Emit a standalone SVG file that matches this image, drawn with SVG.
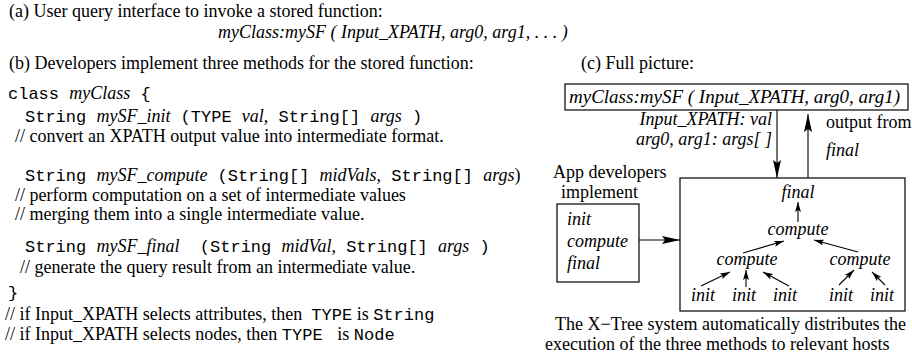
<svg xmlns="http://www.w3.org/2000/svg" width="912" height="358" viewBox="0 0 912 358">
<style>
text{font-family:"Liberation Serif","Times New Roman",serif;font-size:18px;fill:#000;white-space:pre}
.m{font-family:"Liberation Mono","Courier New",monospace;font-size:17px}
.i{font-style:italic}
.lbl{font-size:19px}
.box{fill:none;stroke:#000;stroke-width:1.2}
.ln{fill:none;stroke:#000;stroke-width:1.1}
</style>
<defs>
<marker id="ah" viewBox="0 0 18 8" refX="18" refY="4" markerWidth="18" markerHeight="8" markerUnits="userSpaceOnUse" orient="auto"><path d="M0,0 L18,4 L0,8 L3,4 z" fill="#000"/></marker>
<marker id="ahs" viewBox="0 0 10 6" refX="10" refY="3" markerWidth="10" markerHeight="6" markerUnits="userSpaceOnUse" orient="auto"><path d="M0,0 L10,3 L0,6 L2,3 z" fill="#000"/></marker>
</defs>

<g id="part-a">
<text x="9" y="17">(a) User query interface to invoke a stored function:</text>
<text class="i" x="218" y="38">myClass:mySF ( Input_XPATH, arg0, arg1, . . . )</text>
</g>

<g id="part-b">
<text x="9" y="69">(b) Developers implement three methods for the stored function:</text>
<text x="8" y="99"><tspan class="m">class </tspan><tspan class="i">myClass</tspan><tspan class="m"> {</tspan></text>
<text x="25" y="122"><tspan class="m">String </tspan><tspan class="i">mySF_init</tspan><tspan class="m"> (TYPE </tspan><tspan class="i">val,</tspan><tspan class="m"> String[] </tspan><tspan class="i">args</tspan><tspan class="m"> )</tspan></text>
<text x="15" y="142">// convert an XPATH output value into intermediate format.</text>
<text x="25" y="181"><tspan class="m">String </tspan><tspan class="i">mySF_compute</tspan><tspan class="m"> (String[] </tspan><tspan class="i">midVals,</tspan><tspan class="m"> String[] </tspan><tspan class="i">args</tspan>)</text>
<text x="15" y="201">// perform computation on a set of intermediate values</text>
<text x="15" y="220">// merging them into a single intermediate value.</text>
<text x="25" y="252"><tspan class="m">String </tspan><tspan class="i">mySF_final</tspan><tspan class="m">  (String </tspan><tspan class="i">midVal,</tspan><tspan class="m"> String[] </tspan><tspan class="i">args</tspan><tspan class="m"> )</tspan></text>
<text x="20" y="273">// generate the query result from an intermediate value.</text>
<text x="8" y="298"><tspan class="m">}</tspan></text>
<text x="5" y="320">// if Input_XPATH selects attributes, then  <tspan class="m">TYPE</tspan> is <tspan class="m">String</tspan></text>
<text x="5" y="340">// if Input_XPATH selects nodes, then <tspan class="m">TYPE </tspan> is <tspan class="m">Node</tspan></text>
</g>

<g id="part-c">
<text x="581" y="69">(c) Full picture:</text>
</g>

<g id="node-call">
<rect class="box" x="565" y="84" width="343" height="26"/>
<text class="i lbl" x="569" y="103">myClass:mySF ( Input_XPATH, arg0, arg1)</text>
</g>

<g id="label-in">
<text class="i" x="772" y="125" text-anchor="end">Input_XPATH: val</text>
<text class="i" x="772" y="145" text-anchor="end">arg0, arg1: args[ ]</text>
</g>

<g id="label-out">
<text x="826" y="128">output from</text>
<text class="i" x="826" y="156">final</text>
</g>

<g id="label-dev">
<text x="553" y="178">App developers</text>
<text x="561" y="198">implement</text>
</g>

<g id="node-methods">
<rect class="box" x="557" y="204" width="82" height="78"/>
<text class="i" x="567" y="225">init</text>
<text class="i" x="567" y="247">compute</text>
<text class="i" x="567" y="269">final</text>
</g>

<g id="node-xtree">
<rect class="box" x="680" y="178" width="225" height="133"/>
<g id="t-final"><text class="i" x="798" y="198" text-anchor="middle">final</text></g>
<g id="t-compute-top"><text class="i" x="798" y="235" text-anchor="middle">compute</text></g>
<g id="t-compute-l"><text class="i" x="747" y="265" text-anchor="middle">compute</text></g>
<g id="t-compute-r"><text class="i" x="860" y="265" text-anchor="middle">compute</text></g>
<g id="t-init1"><text class="i" x="703" y="301" text-anchor="middle">init</text></g>
<g id="t-init2"><text class="i" x="744" y="301" text-anchor="middle">init</text></g>
<g id="t-init3"><text class="i" x="785" y="301" text-anchor="middle">init</text></g>
<g id="t-init4"><text class="i" x="841" y="301" text-anchor="middle">init</text></g>
<g id="t-init5"><text class="i" x="882" y="301" text-anchor="middle">init</text></g>
</g>

<g id="caption">
<text x="555" y="330">The X−Tree system automatically distributes the</text>
<text x="545" y="350">execution of the three methods to relevant hosts</text>
</g>

<g id="connectors">
<line class="ln" x1="777" y1="110" x2="777" y2="178" marker-end="url(#ah)"/>
<line class="ln" x1="808" y1="178" x2="808" y2="114" marker-end="url(#ah)"/>
<line class="ln" x1="639" y1="240" x2="680" y2="240" marker-end="url(#ah)"/>
<line class="ln" x1="798" y1="222" x2="798" y2="202" marker-end="url(#ahs)"/>
<line class="ln" x1="743" y1="253" x2="784" y2="241" marker-end="url(#ahs)"/>
<line class="ln" x1="858" y1="252" x2="814" y2="240" marker-end="url(#ahs)"/>
<line class="ln" x1="701" y1="286" x2="730" y2="272" marker-end="url(#ahs)"/>
<line class="ln" x1="746" y1="287" x2="746" y2="270" marker-end="url(#ahs)"/>
<line class="ln" x1="789" y1="286" x2="763" y2="272" marker-end="url(#ahs)"/>
<line class="ln" x1="839" y1="285" x2="854" y2="270" marker-end="url(#ahs)"/>
<line class="ln" x1="885" y1="285" x2="872" y2="272" marker-end="url(#ahs)"/>
</g>
</svg>
